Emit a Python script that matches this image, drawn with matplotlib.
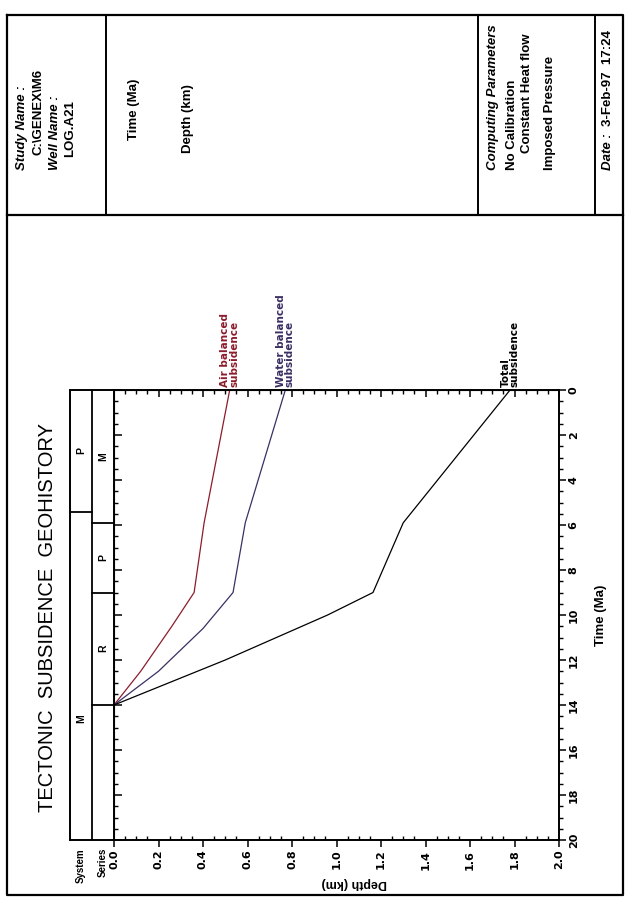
import numpy as np
import matplotlib
matplotlib.use("Agg")
import matplotlib.pyplot as plt
from matplotlib.ticker import MultipleLocator

# subsidence curves (time in Ma, depth in km)
air_time = [0.0, 5.9, 9.0, 10.5, 12.5, 14.0]
air_balanced = [0.52, 0.405, 0.36, 0.26, 0.12, 0.0]
water_time = [0.0, 5.9, 9.0, 10.6, 12.5, 14.0]
water_balanced = [0.77, 0.59, 0.535, 0.40, 0.20, 0.0]
total_time = [0.0, 5.9, 9.0, 10.0, 12.0, 14.0]
total = [1.78, 1.30, 1.164, 0.96, 0.50, 0.0]

# stratigraphic columns: (top, base, label)
system_units = [(0.0, 5.4, "P"), (5.4, 23.8, "M")]
series_units = [(0.0, 5.9, "M"), (5.9, 9.0, "P"), (9.0, 14.0, "R")]

depth_ticks = np.arange(0, 2.01, 0.2)
time_ticks = np.arange(0, 21, 2)

W, H = 627, 898
fig = plt.figure(figsize=(W / 100, H / 100), dpi=100)
fig.patch.set_facecolor("white")

bold = dict(family=["Liberation Sans Narrow", "Liberation Sans", "DejaVu Sans"], fontweight="bold")

# page frame / header, in pixel coords
ov = fig.add_axes([0, 0, 1, 1], zorder=-1)
ov.set_xlim(0, W)
ov.set_ylim(H, 0)
ov.axis("off")
ov.plot([7, 623, 623, 7, 7], [15, 15, 895, 895, 15], color="k", lw=1.6)
ov.plot([7, 623], [215, 215], color="k", lw=1.6)
for xd in [106, 478, 595]:
    ov.plot([xd, xd], [15, 215], color="k", lw=1.4)

hdr = [
    (22, 170, "Study Name :", "italic"),
    (39, 155, "C:\\GENEX\\M6", "normal"),
    (55, 170, "Well Name :", "italic"),
    (70, 157, "LOG.A21", "normal"),
    (134, 140, "Time (Ma)", "normal"),
    (188, 153, "Depth (km)", "normal"),
    (493, 170, "Computing Parameters", "italic"),
    (512, 170, "No Calibration", "normal"),
    (527, 153, "Constant Heat flow", "normal"),
    (550, 170, "Imposed Pressure", "normal"),
    (608, 170, "Date :", "italic"),
    (608, 126, "3-Feb-97  17:24", "normal"),
]
for x, y, s, st in hdr:
    ov.text(x, y, s, rotation=90, ha="center", va="bottom", fontsize=9.5, style=st, **bold)

ov.text(48, 617, "TECTONIC  SUBSIDENCE  GEOHISTORY", rotation=90, ha="center", va="center",
        fontsize=14.5, family=["Liberation Sans", "DejaVu Sans"])

# main plot
x0, x1, y0, y1 = 114, 559, 390, 840
rect = [x0 / W, (H - y1) / H, (x1 - x0) / W, (y1 - y0) / H]
ax = fig.add_axes(rect)
ax.set_xlim(0, 2)
ax.set_ylim(20, 0)

ax.plot(air_balanced, air_time, color="#8c1c2c", lw=0.9)
ax.plot(water_balanced, water_time, color="#3b2f63", lw=0.9)
ax.plot(total, total_time, color="black", lw=0.9)

lab = dict(rotation=90, ha="center", va="bottom", fontsize=7.5, multialignment="left",
           family=["DejaVu Sans"], fontweight="bold", clip_on=False, linespacing=0.85)
ax.text(air_balanced[0], air_time[0] - 0.15, "Air balanced\nsubsidence", color="#8c1c2c", **lab)
ax.text(water_balanced[0], water_time[0] - 0.15, "Water balanced\nsubsidence", color="#3b2f63", **lab)
ax.text(total[0], total_time[0] - 0.15, "Total\nsubsidence", color="black", **lab)

for sp in ax.spines.values():
    sp.set_linewidth(1.4)

ax.set_xticks(depth_ticks)
ax.set_xticklabels([f"{v:.1f}" for v in depth_ticks])
ax.xaxis.set_minor_locator(MultipleLocator(0.05))
ax.tick_params(axis="x", which="major", direction="out", length=5, width=1.1,
               labelrotation=90, labelsize=8, pad=2)
ax.tick_params(axis="x", which="minor", direction="in", length=3, width=1)
for t in ax.get_xticklabels():
    t.set_fontweight("bold")

ax.yaxis.tick_right()
ax.set_yticks(time_ticks)
ax.set_yticklabels([str(v) for v in time_ticks])
ax.yaxis.set_minor_locator(MultipleLocator(0.5))
ax.tick_params(axis="y", which="major", direction="out", length=5, width=1.1,
               labelrotation=90, labelsize=8, pad=2)
ax.tick_params(axis="y", which="minor", direction="out", length=3, width=1)
for t in ax.get_yticklabels():
    t.set_fontweight("bold")
    t.set_verticalalignment("center")

top = ax.secondary_xaxis("top")
top.set_xticks(depth_ticks)
top.xaxis.set_minor_locator(MultipleLocator(0.05))
top.tick_params(which="major", direction="in", length=5, width=1.1, labeltop=False)
top.tick_params(which="minor", direction="in", length=3, width=1)

left = ax.secondary_yaxis("left")
left.set_yticks(time_ticks)
left.yaxis.set_minor_locator(MultipleLocator(0.5))
left.tick_params(which="major", direction="in", length=6, width=1.1, labelleft=False)
left.tick_params(which="minor", direction="in", length=3, width=1)

ax.text(1.08, 21.9, "Depth (km)", rotation=180, ha="center", va="center", fontsize=9, **bold)
ax.text(2.19, 10.0, "Time (Ma)", rotation=90, ha="center", va="center", fontsize=9.5, **bold)

# system / series columns
cx0 = 70
axc = fig.add_axes([cx0 / W, (H - y1) / H, (x0 - cx0) / W, (y1 - y0) / H])
axc.set_xlim(0, 2)
axc.set_ylim(20, 0)
axc.set_xticks([])
axc.set_yticks([])
for sp in axc.spines.values():
    sp.set_linewidth(1.4)
axc.axvline(1, color="k", lw=1.3)
for tp, base, s in system_units:
    if base < 20:
        axc.plot([0, 1], [base, base], color="k", lw=1.3)
    axc.text(0.5, (tp + base) / 2, s, rotation=90, ha="center", va="center", fontsize=7.5, **bold)
for tp, base, s in series_units:
    axc.plot([1, 2], [base, base], color="k", lw=1.3)
    axc.text(1.5, (tp + base) / 2, s, rotation=90, ha="center", va="center", fontsize=7.5, **bold)
axc.text(0.5, 20.35, "System", rotation=90, ha="center", va="top", fontsize=7, **bold)
axc.text(1.5, 20.35, "Series", rotation=90, ha="center", va="top", fontsize=7, **bold)

fig.savefig("out.png", dpi=100, facecolor="white")
